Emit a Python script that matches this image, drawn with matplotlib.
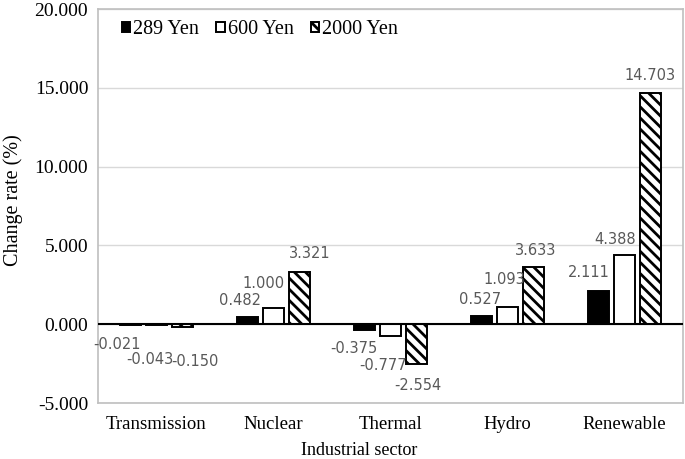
import matplotlib.pyplot as plt
import numpy as np

plt.rcParams["hatch.linewidth"] = 2.0

sectors = ["Transmission", "Nuclear", "Thermal", "Hydro", "Renewable"]
series = ["289 Yen", "600 Yen", "2000 Yen"]
yen289 = [-0.021, 0.482, -0.375, 0.527, 2.111]
yen600 = [-0.043, 1.000, -0.777, 1.093, 4.388]
yen2000 = [-0.150, 3.321, -2.554, 3.633, 14.703]

# label offsets in pixels (dx, dy)
offsets = [
    [(-13, -20), (-7, 16), (-11, -18), (-1, 16), (-10, 18)],
    [(-7, -35), (-10, 25), (-7, -29), (-3, 28), (-9, 16)],
    [(13, -35), (10, 18), (1, -21), (2, 17), (0, 17)],
]

serif = "Liberation Serif"
fig = plt.figure(figsize=(6.85, 4.59), dpi=100)
ax = fig.add_axes([0.143, 0.122, 0.854, 0.858])

x = np.arange(len(sectors))
w = 0.18
step = 0.222
styles = [
    dict(facecolor="black", edgecolor="black"),
    dict(facecolor="white", edgecolor="black"),
    dict(facecolor="white", edgecolor="black", hatch="\\\\\\"),
]
for i, (vals, name) in enumerate(zip([yen289, yen600, yen2000], series)):
    pos = x + (i - 1) * step
    ax.bar(pos, vals, w, linewidth=1.4, label=name, zorder=3, **styles[i])
    for j, v in enumerate(vals):
        dx, dy = offsets[i][j]
        ax.annotate(f"{v:.3f}", (pos[j], v), xytext=(dx * 0.72, dy * 0.72),
                    textcoords="offset points", ha="center", va="center",
                    fontsize=10.5, color="#595959", family="DejaVu Sans", zorder=4)

ax.axhline(0, color="black", linewidth=1.5, zorder=3)
ax.set_ylim(-5, 20)
ax.set_xlim(-0.5, 4.5)
ax.set_yticks(np.arange(-5, 21, 5))
ax.set_yticklabels([f"{t:.3f}" for t in np.arange(-5, 21, 5)], family=serif, fontsize=14)
ax.set_xticks(x)
ax.set_xticklabels(sectors, family=serif, fontsize=13.5)
ax.tick_params(axis="y", length=0, pad=7)
ax.tick_params(axis="x", length=0, pad=9)
ax.yaxis.grid(True, color="#d9d9d9", linewidth=1, zorder=0)
ax.set_axisbelow(True)
for s in ax.spines.values():
    s.set_color("#bfbfbf")
    s.set_linewidth(1.2)
ax.set_xlabel("Industrial sector", family=serif, fontsize=13)
ax.xaxis.set_label_coords(0.447, -0.098)
ax.set_ylabel("Change rate (%)", family=serif, fontsize=14.5)
ax.yaxis.set_label_coords(-0.128, 0.515)

leg = ax.legend(loc="upper left", ncol=3, frameon=False, prop=dict(family=serif, size=14.5),
                handlelength=0.42, handleheight=0.42, handletextpad=0.15, columnspacing=0.85,
                borderpad=0, borderaxespad=0, bbox_to_anchor=(0.041, 0.972))

fig.savefig("out.png", dpi=100)
